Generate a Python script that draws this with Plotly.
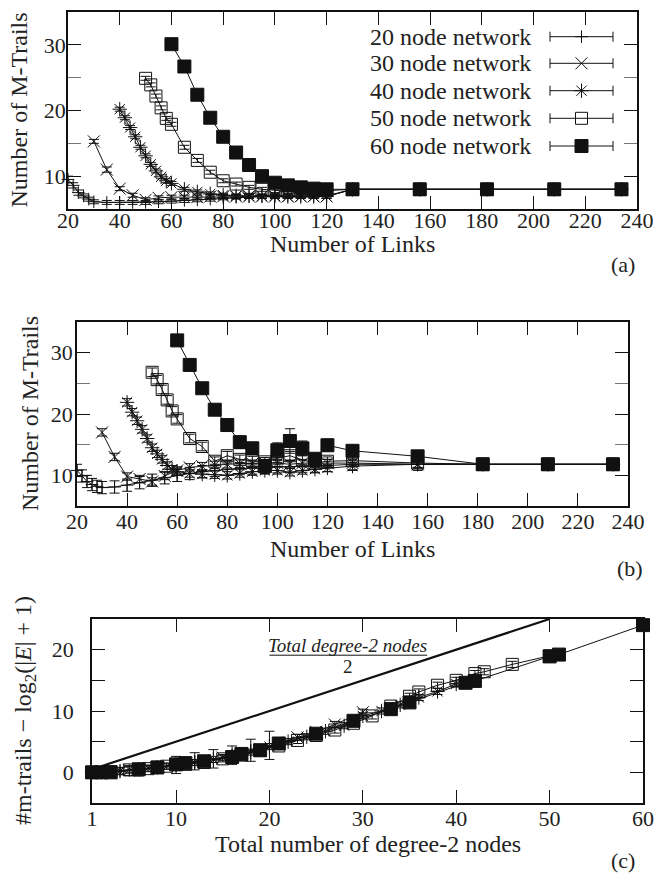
import plotly.graph_objects as go

FONT = "Liberation Serif"
W, H = 668, 873

# ---------------- data: panel (a) and (b)  (x = number of links) ----------------
links_20 = [20, 22, 24, 26, 28, 30, 35, 40, 45, 50, 55, 60, 65, 70, 75, 80, 85, 90, 95, 100,
            105, 110, 115, 120, 130, 156, 182, 208, 234]
links_30 = [30, 35, 40, 45, 50, 55, 60, 65, 70, 75, 80, 85, 90, 95, 100, 105, 110, 115, 120,
            130, 156, 182, 208, 234]
links_40 = [40, 42, 44, 46, 48, 50, 52, 54, 56, 58, 60, 65, 70, 75, 80, 85, 90, 95, 100, 105,
            110, 115, 120, 130, 156, 182, 208, 234]
links_50 = [50, 52, 54, 56, 58, 60, 65, 70, 75, 80, 85, 90, 95, 100, 105, 110, 115, 120, 130,
            156, 182, 208, 234]
links_60 = [60, 65, 70, 75, 80, 85, 90, 95, 100, 105, 110, 115, 120, 130, 156, 182, 208, 234]

a_20 = [9.5, 8.6, 7.5, 7.0, 6.5, 6.1, 6.0, 6.0, 6.0, 6.0, 6.1, 6.2, 6.3, 6.4, 6.5, 6.7, 6.8,
        6.9, 6.9, 7.0, 7.0, 7.0, 7.0, 7.0, 8.0, 8.0, 8.0, 8.0, 8.0]
a_30 = [15.3, 11.0, 8.1, 7.1, 6.4, 6.7, 6.8, 6.8, 6.8, 6.9, 6.9, 6.9, 6.9, 6.9, 6.9, 6.9, 6.9,
        6.9, 6.9, 8.0, 8.0, 8.0, 8.0, 8.0]
a_40 = [20.2, 18.9, 17.4, 16.0, 14.4, 13.1, 11.8, 10.8, 9.9, 9.3, 8.9, 8.0, 7.6, 7.3, 7.1, 7.0,
        7.0, 7.0, 7.0, 6.9, 6.9, 6.9, 6.9, 8.0, 8.0, 8.0, 8.0, 8.0]
a_50 = [24.9, 23.9, 22.2, 20.4, 18.8, 17.9, 14.4, 12.4, 10.6, 9.3, 8.8, 8.3, 8.0, 7.8, 7.7, 7.7,
        7.7, 7.8, 8.0, 8.0, 8.0, 8.0, 8.0]
a_60 = [30.1, 26.7, 22.4, 18.9, 16.0, 13.6, 11.7, 10.0, 9.0, 8.6, 8.3, 8.1, 8.0, 8.0, 8.0, 8.0,
        8.0, 8.0]

a_20_err = [0.5, 0.4, 0.4, 0.3, 0.3, 0.3, 0.3, 0.3, 0.3, 0.3, 0.3, 0.3, 0.3, 0.3, 0.3, 0.3, 0.3,
            0.3, 0.3, 0.3, 0.3, 0.3, 0.3, 0.3, 0.2, 0.2, 0.2, 0.2, 0.2]
a_30_err = [0.3, 0.4, 0.3, 0.3, 0.3, 0.3, 0.3, 0.3, 0.3, 0.3, 0.3, 0.3, 0.3, 0.3, 0.3, 0.3, 0.3,
            0.3, 0.3, 0.2, 0.2, 0.2, 0.2, 0.2]
a_40_err = [0.3] * 23 + [0.2] * 5
a_50_err = [0.3] * 18 + [0.2] * 5
a_60_err = [0.3] * 13 + [0.2] * 5

b_20 = [10.8, 9.9, 9.0, 8.5, 8.2, 8.0, 8.1, 8.4, 8.8, 9.2, 9.6, 10.0, 10.3, 10.6, 10.8, 11.0,
        11.1, 11.2, 11.3, 11.4, 11.4, 11.5, 11.5, 11.6, 11.8, 11.8, 11.8, 11.8, 11.8]
b_30 = [17.0, 13.0, 9.8, 9.4, 9.0, 9.9, 10.8, 11.3, 11.5, 11.7, 11.8, 11.9, 11.9, 12.0, 12.0,
        11.8, 12.0, 12.0, 12.0, 12.0, 11.8, 11.8, 11.8, 11.8]
b_40 = [21.9, 20.3, 18.9, 17.5, 16.0, 14.5, 13.5, 12.6, 11.6, 11.0, 10.6, 10.3, 10.2, 10.1,
        10.0, 10.3, 10.6, 10.8, 10.8, 10.5, 10.8, 11.0, 11.2, 11.5, 11.8, 11.8, 11.8, 11.8]
b_50 = [26.8, 25.6, 24.0, 22.3, 20.5, 19.2, 16.0, 14.7, 12.3, 13.2, 12.6, 12.4, 12.2, 12.8,
        13.2, 12.5, 12.0, 12.3, 12.4, 12.0, 11.8, 11.8, 11.8]
b_60 = [32.0, 28.0, 24.2, 20.7, 18.2, 15.4, 14.4, 11.5, 14.1, 15.6, 14.4, 12.7, 14.9, 14.0,
        13.1, 11.8, 11.8, 11.8]

b_20_err = [1.0] * 29
b_30_err = [0.6] * 24
b_40_err = [0.6] * 28
b_50_err = [0.7] * 23
b_60_err = [0.3, 0.4, 0.5, 0.5, 1.0, 1.0, 1.0, 0.8, 1.2, 2.0, 1.2, 0.8, 1.0, 0.8, 0.8, 0.5,
            0.5, 0.5]

# ---------------- data: panel (c)  (x = total number of degree-2 nodes) ----------------
deg_20 = [1, 2, 3, 4, 5, 6, 8, 10, 12, 14, 16, 18, 20]
c_20 = [0.0, 0.0, 0.1, 0.2, 0.3, 0.4, 0.8, 1.2, 1.8, 2.2, 2.8, 3.6, 4.4]
c_20_err = [0.4, 0.4, 0.5, 0.6, 0.8, 1.0, 1.0, 1.4, 1.4, 1.5, 1.5, 1.8, 2.3]

deg_30 = [1, 2, 3, 5, 7, 9, 11, 13, 15, 17, 19, 21, 23, 25, 27, 30]
c_30 = [0.0, 0.0, 0.2, 0.4, 0.7, 1.0, 1.4, 1.9, 2.4, 3.0, 3.8, 4.8, 5.7, 6.6, 7.8, 9.8]
c_30_err = [0.5] * 16

deg_40 = [1, 2, 4, 6, 8, 10, 12, 14, 16, 18, 20, 22, 24, 26, 28, 30, 32, 34, 36, 38, 40]
c_40 = [0.0, 0.0, 0.2, 0.5, 0.8, 1.2, 1.6, 2.1, 2.6, 3.3, 4.2, 5.0, 5.8, 6.7, 7.6, 9.2, 10.0,
        11.0, 12.2, 13.2, 14.4]
c_40_err = [0.5] * 21

deg_50 = [1, 2, 3, 5, 7, 9, 11, 13, 15, 17, 19, 21, 23, 25, 27, 29, 31, 33, 35, 36, 38, 40,
          42, 43, 46, 50]
c_50 = [0.0, 0.0, 0.1, 0.4, 0.6, 1.0, 1.3, 1.6, 2.2, 2.8, 3.6, 4.3, 5.2, 6.0, 6.9, 8.0, 9.2,
        10.8, 12.4, 13.1, 14.2, 15.0, 16.1, 16.4, 17.6, 19.0]
c_50_err = [0.5] * 26

deg_60 = [1, 2, 3, 6, 8, 10, 11, 13, 16, 17, 19, 21, 25, 29, 33, 35, 41, 42, 50, 51, 60]
c_60 = [0.0, 0.0, 0.0, 0.5, 0.8, 1.3, 1.5, 1.8, 2.5, 3.0, 3.6, 4.7, 6.3, 8.4, 10.3, 11.4,
        14.6, 14.9, 18.9, 19.2, 24.0]
c_60_err = [0.3] * 21

ref_x = [2, 50]          # total degree-2 nodes
ref_y = [1, 25]          # total degree-2 nodes / 2

series_names = ["20 node network", "30 node network", "40 node network",
                "50 node network", "60 node network"]

# ---------------- styles ----------------
INK = "#111111"
TXT = "#222222"
styles = [
    dict(symbol="cross-thin-open", size=9),
    dict(symbol="x-thin-open", size=12),
    dict(symbol="asterisk-open", size=12),
    dict(symbol="square-open", size=12),
    dict(symbol="square", size=13),
]


def px_x(p):
    return p / W


def px_y(p):
    return 1 - p / H


dom = {
    "a": dict(x=[px_x(68), px_x(637)], y=[px_y(209), px_y(12)]),
    "b": dict(x=[px_x(77), px_x(628)], y=[px_y(506), px_y(322)]),
    "c": dict(x=[px_x(92), px_x(643)], y=[px_y(803), px_y(619)]),
}

fig = go.Figure()


def add_series(xs, ys, errs, st, xa, ya, name):
    fig.add_trace(go.Scatter(
        x=xs, y=ys, mode="lines+markers", name=name, xaxis=xa, yaxis=ya,
        line=dict(color=INK, width=1),
        marker=dict(symbol=st["symbol"], size=st["size"], color=INK,
                    line=dict(color=INK, width=1)),
        error_y=dict(type="data", array=errs, visible=True, color=INK,
                     thickness=1, width=5),
        cliponaxis=False, showlegend=False,
    ))


panel_a = [(links_20, a_20, a_20_err), (links_30, a_30, a_30_err), (links_40, a_40, a_40_err),
           (links_50, a_50, a_50_err), (links_60, a_60, a_60_err)]
panel_b = [(links_20, b_20, b_20_err), (links_30, b_30, b_30_err), (links_40, b_40, b_40_err),
           (links_50, b_50, b_50_err), (links_60, b_60, b_60_err)]
panel_c = [(deg_20, c_20, c_20_err), (deg_30, c_30, c_30_err), (deg_40, c_40, c_40_err),
           (deg_50, c_50, c_50_err), (deg_60, c_60, c_60_err)]

for (xs, ys, es), st, nm in zip(panel_a, styles, series_names):
    add_series(xs, ys, es, st, "x", "y", nm)
for (xs, ys, es), st, nm in zip(panel_b, styles, series_names):
    add_series(xs, ys, es, st, "x2", "y2", nm)

fig.add_trace(go.Scatter(x=ref_x, y=ref_y, mode="lines", xaxis="x3", yaxis="y3",
                         line=dict(color=INK, width=2.2), showlegend=False,
                         cliponaxis=False))
for (xs, ys, es), st, nm in zip(panel_c, styles, series_names):
    add_series(xs, ys, es, st, "x3", "y3", nm)

# ---------------- gnuplot-style key (text left, sample right) ----------------
key_rows = [36.7, 63.3, 90.7, 118.3, 146.0]
for row, st, nm in zip(key_rows, styles, series_names):
    fig.add_trace(go.Scatter(
        x=[581.5], y=[row], mode="markers", xaxis="x4", yaxis="y4",
        marker=dict(symbol=st["symbol"], size=st["size"], color=INK,
                    line=dict(color=INK, width=1)),
        error_x=dict(type="data", array=[31.5], visible=True, color=INK,
                     thickness=1, width=5),
        showlegend=False, cliponaxis=False, hoverinfo="skip",
    ))
    fig.add_annotation(x=533, y=row, xref="x4", yref="y4", text=nm, showarrow=False,
                       xanchor="right", yanchor="middle",
                       font=dict(family=FONT, size=24, color=TXT))

# ---------------- axes ----------------
tickfont = dict(family=FONT, size=22, color=TXT)


def axis_common(standoff):
    return dict(showline=True, linecolor=INK, linewidth=1.5, mirror="ticks",
                ticks="inside", ticklen=13, tickwidth=1, tickcolor=INK,
                showgrid=False, zeroline=False, tickfont=tickfont, automargin=False,
                ticklabelstandoff=standoff)


link_ticks = list(range(20, 241, 20))
minor_gray = dict(ticks="inside", ticklen=13, tickcolor="#777777")

fig.update_layout(
    xaxis=dict(domain=dom["a"]["x"], anchor="y", range=[20, 240], tickvals=link_ticks,
               **axis_common(-9)),
    yaxis=dict(domain=dom["a"]["y"], anchor="x", range=[5, 35], tickvals=[10, 20, 30],
               minor=dict(tickvals=[15, 25], **minor_gray), **axis_common(-4)),
    xaxis2=dict(domain=dom["b"]["x"], anchor="y2", range=[20, 240], tickvals=link_ticks,
                **axis_common(-5)),
    yaxis2=dict(domain=dom["b"]["y"], anchor="x2", range=[5, 35], tickvals=[10, 20, 30],
                minor=dict(tickvals=[15, 25], **minor_gray), **axis_common(-2)),
    xaxis3=dict(domain=dom["c"]["x"], anchor="y3", range=[1, 60],
                tickvals=[1, 10, 20, 30, 40, 50, 60], **axis_common(-5)),
    yaxis3=dict(domain=dom["c"]["y"], anchor="x3", range=[-5, 25], tickvals=[0, 10, 20],
                minor=dict(tickvals=[5, 15], ticks="inside", ticklen=13, tickcolor=INK),
                **axis_common(12)),
    xaxis4=dict(overlaying="x", range=[68, 637], visible=False, fixedrange=True),
    yaxis4=dict(overlaying="y", range=[209, 12], visible=False, fixedrange=True),
    width=W, height=H, autosize=False,
    margin=dict(l=0, r=0, t=0, b=0, pad=0),
    paper_bgcolor="white", plot_bgcolor="rgba(0,0,0,0)",
    showlegend=False,
    font=dict(family=FONT, size=24, color=TXT),
)

# ---------------- axis titles and panel labels ----------------


def label(text, px, py, angle=0, size=24):
    fig.add_annotation(x=px_x(px), y=px_y(py), xref="paper", yref="paper", text=text,
                       showarrow=False, xanchor="center", yanchor="middle",
                       textangle=angle, font=dict(family=FONT, size=size, color=TXT))


label("Number of Links", 352, 244)
label("Number of M-Trails", 18, 110.5, -90)
label("(a)", 623, 264, size=22)
label("Number of Links", 352.5, 549)
label("Number of M-Trails", 30, 414, -90)
label("(b)", 630, 568, size=22)
label("Total number of degree-2 nodes", 367.5, 844)
label("#m-trails − log<sub>2</sub>(|<i>E</i>| + 1)", 25, 711, -90)
label("(c)", 623, 860, size=22)

# fraction annotation in panel (c)
fig.add_annotation(x=28.4, y=20.6, xref="x3", yref="y3", text="<i>Total degree-2 nodes</i>",
                   showarrow=False, xanchor="center", yanchor="middle",
                   font=dict(family=FONT, size=19, color=TXT))
fig.add_annotation(x=28.4, y=17.2, xref="x3", yref="y3", text="2",
                   showarrow=False, xanchor="center", yanchor="middle",
                   font=dict(family=FONT, size=19, color=TXT))
fig.add_shape(type="line", xref="x3", yref="y3", x0=20, x1=36.9, y0=19.1, y1=19.1,
              line=dict(color=INK, width=1))

fig.write_html("out.html", config={"responsive": False, "displayModeBar": False},
               post_script="document.body.style.margin='0px';")
